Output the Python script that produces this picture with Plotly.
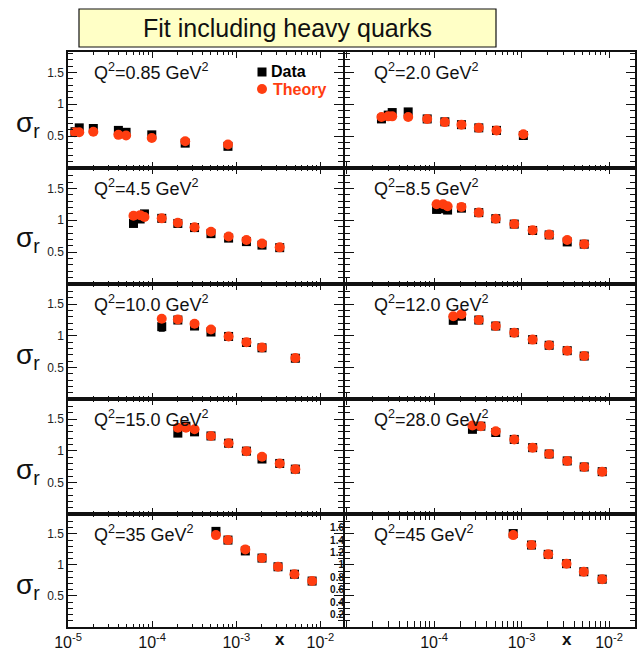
import plotly.graph_objects as go

# ---------------- data ----------------
q2_labels = ["0.85", "2.0", "4.5", "8.5", "10.0", "12.0", "15.0", "28.0", "35", "45"]

x_q085 = [1.21e-5, 1.36e-5, 2.0e-5, 3.97e-5, 4.9e-5, 9.9e-5, 2.47e-4, 7.96e-4]
data_q085 = [0.57, 0.63, 0.62, 0.59, 0.56, 0.52, 0.39, 0.34]
theory_q085 = [0.56, 0.56, 0.57, 0.52, 0.51, 0.47, 0.42, 0.37]

x_q2 = [2.51e-5, 3.0e-5, 3.33e-5, 5.07e-5, 8.36e-5, 1.33e-4, 2.06e-4, 3.25e-4, 5.18e-4, 1.05e-3]
data_q2 = [0.77, 0.83, 0.87, 0.88, 0.77, 0.725, 0.68, 0.63, 0.59, 0.51]
theory_q2 = [0.80, 0.81, 0.81, 0.80, 0.77, 0.72, 0.68, 0.63, 0.59, 0.53]

x_q45 = [6.0e-5, 7.2e-5, 8.1e-5, 1.30e-4, 2.02e-4, 3.19e-4, 5.0e-4, 8.1e-4, 1.32e-3, 2.02e-3, 3.28e-3]
data_q45 = [0.95, 1.02, 1.10, 1.03, 0.95, 0.885, 0.79, 0.72, 0.665, 0.61, 0.57]
theory_q45 = [1.07, 1.08, 1.05, 1.03, 0.96, 0.89, 0.82, 0.745, 0.69, 0.635, 0.575]

x_q85 = [1.07e-4, 1.27e-4, 1.43e-4, 2.06e-4, 3.25e-4, 5.08e-4, 8.26e-4, 1.34e-3, 2.07e-3, 3.33e-3, 5.21e-3]
data_q85 = [1.17, 1.18, 1.16, 1.19, 1.12, 1.025, 0.94, 0.84, 0.77, 0.66, 0.625]
theory_q85 = [1.25, 1.25, 1.22, 1.21, 1.12, 1.025, 0.94, 0.845, 0.775, 0.69, 0.625]

x_q10 = [1.30e-4, 2.02e-4, 3.19e-4, 5.0e-4, 8.1e-4, 1.32e-3, 2.02e-3, 5.03e-3]
data_q10 = [1.145, 1.25, 1.155, 1.06, 0.99, 0.895, 0.81, 0.645]
theory_q10 = [1.27, 1.26, 1.19, 1.10, 0.99, 0.90, 0.815, 0.65]

x_q12 = [1.66e-4, 2.06e-4, 3.25e-4, 5.08e-4, 8.26e-4, 1.34e-3, 2.07e-3, 3.33e-3, 5.21e-3]
data_q12 = [1.245, 1.31, 1.25, 1.155, 1.05, 0.94, 0.85, 0.765, 0.68]
theory_q12 = [1.31, 1.34, 1.25, 1.155, 1.05, 0.94, 0.85, 0.765, 0.68]

x_q15 = [2.02e-4, 2.52e-4, 3.19e-4, 5.0e-4, 8.1e-4, 1.32e-3, 2.02e-3, 3.28e-3, 5.03e-3]
data_q15 = [1.28, 1.39, 1.30, 1.235, 1.12, 0.995, 0.87, 0.80, 0.71]
theory_q15 = [1.365, 1.365, 1.34, 1.235, 1.12, 0.995, 0.905, 0.80, 0.71]

x_q28 = [2.75e-4, 3.43e-4, 5.08e-4, 8.26e-4, 1.34e-3, 2.07e-3, 3.33e-3, 5.21e-3, 8.36e-3]
data_q28 = [1.34, 1.39, 1.29, 1.18, 1.05, 0.95, 0.84, 0.745, 0.67]
theory_q28 = [1.40, 1.39, 1.31, 1.18, 1.05, 0.95, 0.84, 0.745, 0.67]

x_q35 = [5.73e-4, 7.96e-4, 1.28e-3, 2.02e-3, 3.13e-3, 4.91e-3, 7.96e-3]
data_q35 = [1.54, 1.40, 1.225, 1.11, 0.97, 0.85, 0.74]
theory_q35 = [1.48, 1.40, 1.25, 1.11, 0.97, 0.85, 0.74]

x_q45b = [8.04e-4, 1.30e-3, 2.02e-3, 3.27e-3, 5.15e-3, 8.36e-3]
data_q45b = [1.505, 1.32, 1.17, 1.02, 0.89, 0.77]
theory_q45b = [1.48, 1.32, 1.17, 1.02, 0.89, 0.77]

# error on data (only visible one is the first Q2=10 point)
err_q10 = [0.07, 0, 0, 0, 0, 0, 0, 0]

y_tick_vals = [0.5, 1, 1.5]
y_tick_text = ["0.5", "1", "1.5"]
x_tick_vals = [1e-5, 1e-4, 1e-3, 1e-2]
x_tick_text_left = ["10<sup>-5</sup>", "10<sup>-4</sup>", "10<sup>-3</sup>", "10<sup>-2</sup>"]
x_tick_text_right = ["", "10<sup>-4</sup>", "10<sup>-3</sup>", "10<sup>-2</sup>"]
extra_y_vals = [0.2, 0.4, 0.6, 0.8, 1.0, 1.2, 1.4, 1.6]
extra_y_text = ["0.2", "0.4", "0.6", "0.8", "1", "1.2", "1.4", "1.6"]

panels = [
    (x_q085, data_q085, theory_q085, None),
    (x_q2, data_q2, theory_q2, None),
    (x_q45, data_q45, theory_q45, None),
    (x_q85, data_q85, theory_q85, None),
    (x_q10, data_q10, theory_q10, err_q10),
    (x_q12, data_q12, theory_q12, None),
    (x_q15, data_q15, theory_q15, None),
    (x_q28, data_q28, theory_q28, None),
    (x_q35, data_q35, theory_q35, None),
    (x_q45b, data_q45b, theory_q45b, None),
]

# ---------------- layout geometry (pixels) ----------------
W, H = 640, 651
row_top = [52, 168, 284, 399, 514]
row_bot = [168, 284, 399, 514, 627]
col_x = [(68, 343), (345, 635)]
col_range = [[-5.0, -1.732], [-5.017, -1.703]]
Y_RANGE = [0, 1.82]
RED = "#ff3d10"
FONT = "Liberation Sans"

minor_x = [m * 10 ** e for e in range(-5, -1) for m in range(2, 10)]
minor_y = [round(0.1 * i, 1) for i in range(1, 19) if i % 5 != 0]

fig = go.Figure()
layout = dict(
    width=W, height=H, margin=dict(l=0, r=0, t=0, b=0),
    paper_bgcolor="white", plot_bgcolor="white", showlegend=False,
    font=dict(family=FONT, color="black"),
)
annotations = []
shapes = []

def px(x):
    return x / W

def py(y):
    return 1 - y / H

for k, (xs, ds, ts, es) in enumerate(panels, start=1):
    r, c = (k - 1) // 2, (k - 1) % 2
    xa, ya = f"x{k}", f"y{k}"
    bottom = r == 4
    layout[f"xaxis{k}"] = dict(
        domain=[px(col_x[c][0]), px(col_x[c][1])], anchor=ya, type="log",
        range=col_range[c], showgrid=False, zeroline=False, automargin=False,
        showline=True, linecolor="#111", linewidth=1.5, mirror="allticks",
        ticks="inside", ticklen=6, tickwidth=1, tickcolor="#111",
        tickmode="array", tickvals=x_tick_vals,
        ticktext=(x_tick_text_left if c == 0 else x_tick_text_right),
        showticklabels=bottom, tickfont=dict(size=16, color="#111"),
        minor=dict(ticks="inside", ticklen=3, tickcolor="#111", tickmode="array",
                   tickvals=minor_x, showgrid=False),
    )
    layout[f"yaxis{k}"] = dict(
        domain=[py(row_bot[r]), py(row_top[r])], anchor=xa, range=Y_RANGE,
        showgrid=False, zeroline=False, automargin=False,
        showline=True, linecolor="#111", linewidth=1.5, mirror="allticks",
        ticks="inside", ticklen=9, tickwidth=1, tickcolor="#111",
        tickmode="array", tickvals=y_tick_vals, ticktext=y_tick_text,
        showticklabels=(c == 0), tickfont=dict(size=12, color="#222"),
        minor=dict(ticks="inside", ticklen=5, tickcolor="#111", tickmode="array",
                   tickvals=minor_y, showgrid=False),
    )
    err = dict(type="data", array=es, visible=True, color="black", thickness=1.2, width=3) if es else None
    fig.add_trace(go.Scatter(
        x=xs, y=ds, mode="markers", xaxis=xa, yaxis=ya, name="Data",
        marker=dict(symbol="square", size=9, color="black"),
        error_y=err, cliponaxis=False,
    ))
    fig.add_trace(go.Scatter(
        x=xs, y=ts, mode="markers", xaxis=xa, yaxis=ya, name="Theory",
        marker=dict(symbol="circle", size=10, color=RED),
    ))
    # Q^2 label
    annotations.append(dict(
        xref="paper", yref="paper", x=px(92 if c == 0 else 372), y=py(row_top[r] + 6),
        xanchor="left", yanchor="top", showarrow=False,
        text=f"Q<sup>2</sup>={q2_labels[k - 1]} GeV<sup>2</sup>",
        font=dict(size=18, color="#111", family=FONT),
    ))
    if c == 0:
        annotations.append(dict(
            xref="paper", yref="paper", x=px(28), y=py(row_top[r] + 72),
            xanchor="center", yanchor="middle", showarrow=False,
            text="σ<sub>r</sub>", font=dict(size=28, color="#111", family=FONT),
        ))

# odd extra tick labels that appear at the left edge of the last right panel
layout["yaxis11"] = dict(
    overlaying="y10", anchor="x10", side="left", range=Y_RANGE, showgrid=False,
    zeroline=False, showline=False, ticks="", tickmode="array", automargin=False,
    tickvals=extra_y_vals, ticktext=extra_y_text,
    tickfont=dict(size=10, color="#111", family=FONT, weight="bold"),
)
fig.add_trace(go.Scatter(x=[], y=[], xaxis="x10", yaxis="y11", showlegend=False))

# x titles
for xc in (280, 567):
    annotations.append(dict(
        xref="paper", yref="paper", x=px(xc), y=py(651), xanchor="center", yanchor="bottom",
        showarrow=False, text="<b>x</b>", font=dict(size=17, color="#111", family=FONT),
    ))

# legend (inside first panel)
shapes.append(dict(type="rect", xref="paper", yref="paper",
                   x0=px(257.5), x1=px(266.5), y0=py(76.5), y1=py(67.5),
                   fillcolor="black", line=dict(width=0)))
shapes.append(dict(type="circle", xref="paper", yref="paper",
                   x0=px(257), x1=px(267), y0=py(94), y1=py(84),
                   fillcolor=RED, line=dict(width=0)))
annotations.append(dict(xref="paper", yref="paper", x=px(269), y=py(72), xanchor="left",
                        yanchor="middle", showarrow=False, text="<b>Data</b>",
                        font=dict(size=16, color="black", family=FONT)))
annotations.append(dict(xref="paper", yref="paper", x=px(271), y=py(89), xanchor="left",
                        yanchor="middle", showarrow=False, text="<b>Theory</b>",
                        font=dict(size=16, color=RED, family=FONT)))

# title box
shapes.append(dict(type="rect", xref="paper", yref="paper",
                   x0=px(79), x1=px(496), y0=py(47), y1=py(9),
                   fillcolor="#ffffc6", line=dict(color="#111", width=1.2)))
annotations.append(dict(xref="paper", yref="paper", x=px(287.5), y=py(28), xanchor="center",
                        yanchor="middle", showarrow=False, text="Fit including heavy quarks",
                        font=dict(size=25, color="#111", family=FONT)))

layout["annotations"] = annotations
layout["shapes"] = shapes
fig.update_layout(**layout)
fig.write_html(
    "out.html",
    config={"displayModeBar": False},
    post_script="document.body.style.margin='0';document.body.style.overflow='hidden';",
)
